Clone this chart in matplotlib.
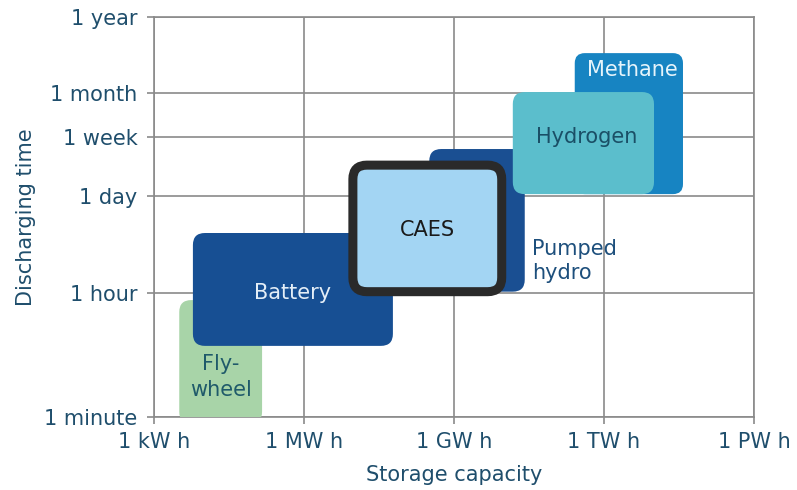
import numpy as np
import matplotlib
matplotlib.use("Agg")
import matplotlib.pyplot as plt
from matplotlib.patches import FancyBboxPatch

plt.rcParams['font.family'] = ['DejaVu Sans']

# ---- data (capacity in kWh, discharging time in minutes) ----
names = ["Flywheel", "Battery", "Pumped hydro", "CAES", "Methane", "Hydrogen"]
cap_min = [3.2, 6.0, 3.2e5, 9.5e3, 2.6e8, 1.5e7]
cap_max = [145, 6.0e4, 2.6e7, 9.0e6, 3.8e10, 1.0e10]
time_min = [0.8, 10.4, 62, 62, 1540, 1540]
time_max = [47, 428, 6800, 4000, 160000, 44400]

x_ticks = [1, 1e3, 1e6, 1e9, 1e12]
x_labels = ["1 kW h", "1 MW h", "1 GW h", "1 TW h", "1 PW h"]
y_ticks = [1, 60, 1440, 10080, 43200, 525600]
y_labels = ["1 minute", "1 hour", "1 day", "1 week", "1 month", "1 year"]

# ---- styles ----
fills = ["#a8d4a8", "#174f93", "#1a4f92", "#a3d5f3", "#1784c2", "#5bbecc"]
edges = [None, None, None, "#2a2a2a", None, None]
lws = [0, 0, 0, 6.5, 0, 0]
radii = [12, 12, 12, 14, 10, 12]
zorders = [2, 3, 3, 5, 3, 4]

txt = "#1f4e6c"

W, H = 797, 490
fig = plt.figure(figsize=(W / 100, H / 100), dpi=100)
L, R, T, B = 154, 754, 17, 417
ax = fig.add_axes([L / W, 1 - B / H, (R - L) / W, (B - T) / H])
ax.set_xscale('log')
ax.set_yscale('log')
ax.set_xlim(x_ticks[0], x_ticks[-1])
ax.set_ylim(y_ticks[0], y_ticks[-1])

ax.set_xticks(x_ticks)
ax.set_xticklabels(x_labels)
ax.set_yticks(y_ticks)
ax.set_yticklabels(y_labels)
ax.minorticks_off()
ax.tick_params(axis='both', length=5, width=1.2, color='#8a8a8a',
               labelsize=15, labelcolor=txt)
ax.tick_params(axis='y', pad=7)
ax.tick_params(axis='x', pad=6)
ax.grid(True, color='#8a8a8a', linewidth=1.2, zorder=1)
ax.set_axisbelow(True)
for s in ax.spines.values():
    s.set_color('#8a8a8a')
    s.set_linewidth(1.2)
    s.set_zorder(1)

ax.set_xlabel("Storage capacity", fontsize=15, color=txt, labelpad=9)
ax.set_ylabel("Discharging time", fontsize=15, color=txt, labelpad=6)

aw, ah = (R - L), (B - T)


def to_axes(x, y):
    d = ax.transData.transform((x, y))
    return ax.transAxes.inverted().transform(d)


for i, n in enumerate(names):
    x0, y0 = to_axes(cap_min[i], time_min[i])
    x1, y1 = to_axes(cap_max[i], time_max[i])
    r = radii[i] / aw
    p = FancyBboxPatch((x0, y0), x1 - x0, y1 - y0,
                       boxstyle=f"round,pad=0,rounding_size={r}",
                       mutation_aspect=aw / ah,
                       transform=ax.transAxes,
                       facecolor=fills[i],
                       edgecolor=edges[i] if edges[i] else 'none',
                       linewidth=lws[i], zorder=zorders[i], clip_on=True)
    ax.add_patch(p)


def gm(a, b):
    return np.sqrt(a * b)


fs = 15
# labels
ax.text(gm(cap_min[0], cap_max[0]), 3.7, "Fly-\nwheel", ha='center', va='center',
        fontsize=fs, color='#1f5a6a', zorder=6, linespacing=1.35)
ax.text(gm(cap_min[1], cap_max[1]), 60, "Battery", ha='center', va='center',
        fontsize=fs, color='#e4eef7', zorder=6)
ax.text(gm(cap_min[3], cap_max[3]), 480, "CAES", ha='center', va='center',
        fontsize=fs, color='#1a1a1a', zorder=6)
ax.text(cap_max[2] * 1.4, 170, "Pumped\nhydro", ha='left', va='center',
        fontsize=fs, color='#1d4f7c', zorder=6, linespacing=1.3)
ax.text(4.6e8, 10080, "Hydrogen", ha='center', va='center',
        fontsize=fs, color='#1a4f66', zorder=6)
ax.text(gm(cap_min[4], cap_max[4]) * 1.2, 92000, "Methane", ha='center', va='center',
        fontsize=fs, color='#e6f4fb', zorder=6)

fig.savefig("out.png", dpi=100)
